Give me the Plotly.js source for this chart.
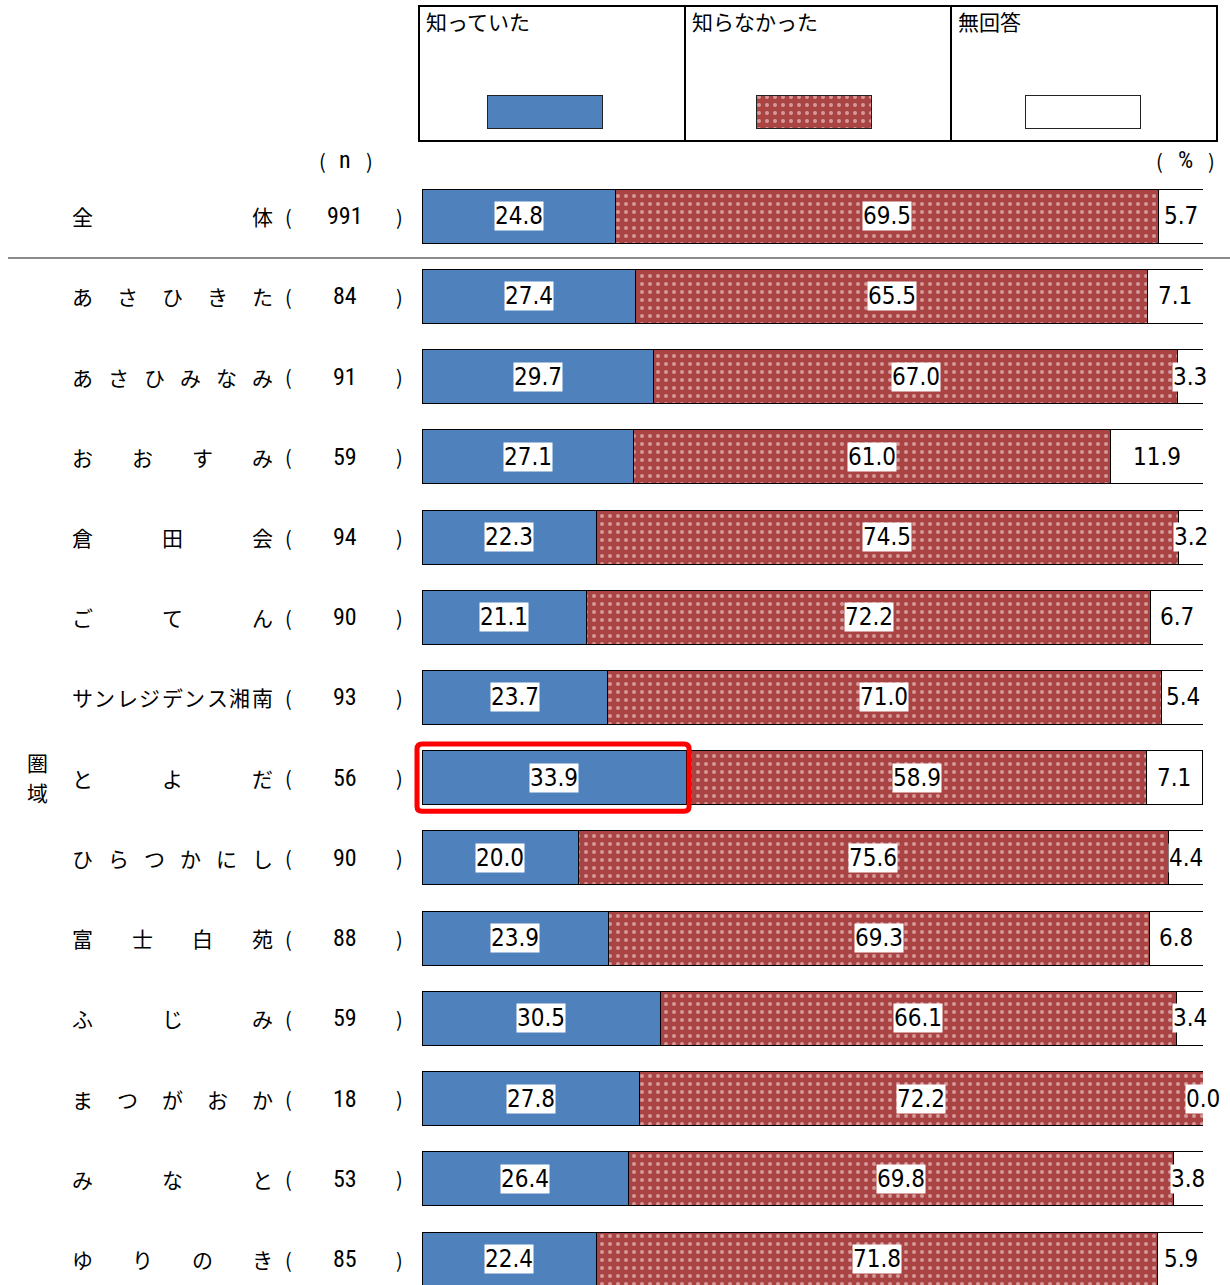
<!DOCTYPE html>
<html>
<head>
<meta charset="utf-8">
<script src="https://cdn.plot.ly/plotly-3.0.1.min.js"></script>
<style>
  html, body { margin: 0; padding: 0; background: #ffffff; }
  #chart { width: 1230px; height: 1285px; }
  .annotation-text { font-stretch: condensed; }
</style>
</head>
<body>
<div id="chart"></div>
<script>
// 圏域別の認知度（％）
const categories = ['全体', 'あさひきた', 'あさひみなみ', 'おおすみ', '倉田会', 'ごてん',
  'サンレジデンス湘南', 'とよだ', 'ひらつかにし', '富士白苑', 'ふじみ', 'まつがおか', 'みなと', 'ゆりのき'];
const nCounts = [991, 84, 91, 59, 94, 90, 93, 56, 90, 88, 59, 18, 53, 85];
const seriesNames = ['知っていた', '知らなかった', '無回答'];
const knew = [24.8, 27.4, 29.7, 27.1, 22.3, 21.1, 23.7, 33.9, 20.0, 23.9, 30.5, 27.8, 26.4, 22.4];
const didNotKnow = [69.5, 65.5, 67.0, 61.0, 74.5, 72.2, 71.0, 58.9, 75.6, 69.3, 66.1, 72.2, 69.8, 71.8];
const noAnswer = [5.7, 7.1, 3.3, 11.9, 3.2, 6.7, 5.4, 7.1, 4.4, 6.8, 3.4, 0.0, 3.8, 5.9];
const highlighted = 'とよだ';

const W = 1230, H = 1285;
// plot area of the main bars, in pixels
const PL = 422, PR = 1203, PT = 176, PB = 1285;
const X_RANGE = [0, 100];
const Y_RANGE = [13.324, -0.5];
const px = v => v / W;            // pixel x -> paper x
const py = v => (H - v) / H;      // pixel y -> paper y
// main-axis value -> paper, following the axis ranges above
const xToPaper = d => px(PL + (d - X_RANGE[0]) / (X_RANGE[1] - X_RANGE[0]) * (PR - PL));
const yToPaper = r => py(PT + (r - Y_RANGE[1]) / (Y_RANGE[0] - Y_RANGE[1]) * (PB - PT));

const JP = '"Noto Sans CJK JP", "Noto Sans", sans-serif';
const NUM = '"DejaVu Sans", sans-serif';
const NUM2 = 'Roboto, sans-serif';

const blue = '#4F81BD';
const red = '#AA4343';
const outline = { color: '#000000', width: 1 };
const dots = { shape: '.', size: 8, solidity: 0.2, fgcolor: '#FFF0F0', bgcolor: red, fillmode: 'overlay' };

const series = [
  { name: seriesNames[0], values: knew, marker: { color: blue, line: outline } },
  { name: seriesNames[1], values: didNotKnow, marker: { color: red, line: outline, pattern: dots } },
  { name: seriesNames[2], values: noAnswer, marker: { color: '#FFFFFF', line: outline } }
];

const traces = series.map(s => ({
  type: 'bar', orientation: 'h', name: s.name,
  x: s.values, y: categories,
  marker: s.marker, width: 0.673,
  hoverinfo: 'x+y', showlegend: false
}));

// legend swatches drawn as bars on their own small axes
series.forEach(s => {
  traces.push({
    type: 'bar', x: [s.name], y: [1], xaxis: 'x2', yaxis: 'y2',
    marker: { color: s.marker.color, line: { color: '#222', width: 1 }, pattern: s.marker.pattern },
    width: 0.428, hoverinfo: 'skip', showlegend: false
  });
});

const annotations = [];

// value labels centred in each segment, on white boxes
categories.forEach((c, i) => {
  let start = 0;
  series.forEach(s => {
    const v = s.values[i];
    annotations.push({
      xref: 'x', yref: 'y', x: start + v / 2, y: c,
      text: v.toFixed(1), showarrow: false,
      font: { family: NUM, size: 24, color: '#000' },
      bgcolor: '#FFFFFF', borderpad: 0, xanchor: 'center', yanchor: 'middle'
    });
    start += v;
  });
});

// row labels: characters spread across the label column, then (n)
categories.forEach((c, i) => {
  const chars = [...c];
  const m = chars.length;
  chars.forEach((ch, j) => {
    const cx = m === 1 ? 172 : 82 + j * (180 / (m - 1));
    annotations.push({
      xref: 'paper', yref: 'y', x: px(cx), y: c, text: ch, showarrow: false,
      font: { family: JP, size: 21, color: '#000' }, xanchor: 'center', yanchor: 'middle'
    });
  });
  annotations.push({ xref: 'paper', yref: 'y', x: px(288), y: c, text: '(', showarrow: false,
    font: { family: JP, size: 20, color: '#000' }, xanchor: 'center', yanchor: 'middle' });
  annotations.push({ xref: 'paper', yref: 'y', x: px(345), y: c, text: String(nCounts[i]), showarrow: false,
    font: { family: NUM2, size: 24, color: '#000' }, xanchor: 'center', yanchor: 'middle' });
  annotations.push({ xref: 'paper', yref: 'y', x: px(399), y: c, text: ')', showarrow: false,
    font: { family: JP, size: 20, color: '#000' }, xanchor: 'center', yanchor: 'middle' });
});

// headers
const header = (t, x, y, fam, size) => annotations.push({
  xref: 'paper', yref: 'paper', x: px(x), y: py(y), text: t, showarrow: false,
  font: { family: fam, size: size, color: '#000' }, xanchor: 'center', yanchor: 'middle'
});
header('(', 322, 160, JP, 20); header('n', 345, 160, NUM2, 24); header(')', 369, 160, JP, 20);
header('(', 1159, 160, JP, 20); header('%', 1185, 160, NUM2, 24); header(')', 1211, 160, JP, 20);
header('圏', 37, 762, JP, 21); header('域', 37, 792, JP, 21);

// legend captions
[424, 690, 956].forEach((x, k) => annotations.push({
  xref: 'paper', yref: 'paper', x: px(x), y: py(21), text: seriesNames[k], showarrow: false,
  font: { family: JP, size: 21, color: '#000' }, xanchor: 'left', yanchor: 'middle'
}));

// rounded highlight frame around the 知っていた segment of the highlighted row
const hi = categories.indexOf(highlighted);
const fx0 = xToPaper(-0.64), fx1 = xToPaper(knew[hi] + 0.3);
const fy0 = yToPaper(hi + 0.42), fy1 = yToPaper(hi - 0.42);
const rx = px(5), ry = 5 / H;
const roundPath = `M ${fx0 + rx} ${fy0} L ${fx1 - rx} ${fy0} Q ${fx1} ${fy0} ${fx1} ${fy0 + ry} ` +
  `L ${fx1} ${fy1 - ry} Q ${fx1} ${fy1} ${fx1 - rx} ${fy1} L ${fx0 + rx} ${fy1} Q ${fx0} ${fy1} ${fx0} ${fy1 - ry} ` +
  `L ${fx0} ${fy0 + ry} Q ${fx0} ${fy0} ${fx0 + rx} ${fy0} Z`;

const shapes = [
  // legend frame and cell dividers
  { type: 'rect', xref: 'paper', yref: 'paper', x0: px(419), x1: px(1217), y0: py(141), y1: py(6),
    line: { color: '#000', width: 2 }, fillcolor: 'rgba(0,0,0,0)', layer: 'below' },
  { type: 'line', xref: 'paper', yref: 'paper', x0: px(685), x1: px(685), y0: py(141), y1: py(6),
    line: { color: '#000', width: 2 } },
  { type: 'line', xref: 'paper', yref: 'paper', x0: px(951), x1: px(951), y0: py(141), y1: py(6),
    line: { color: '#000', width: 2 } },
  // separator below the total row
  { type: 'line', xref: 'paper', yref: 'paper', x0: px(8), x1: px(1230), y0: py(258), y1: py(258),
    line: { color: '#8C8C8C', width: 2 } },
  { type: 'path', xref: 'paper', yref: 'paper', path: roundPath,
    line: { color: '#FF0000', width: 5 }, fillcolor: 'rgba(0,0,0,0)', layer: 'above' }
];

const layout = {
  width: W, height: H,
  margin: { l: 0, r: 0, t: 0, b: 0, pad: 0 },
  paper_bgcolor: '#FFFFFF', plot_bgcolor: 'rgba(0,0,0,0)',
  barmode: 'stack',
  showlegend: false,
  xaxis: { range: X_RANGE, visible: false, fixedrange: true, domain: [px(PL), px(PR)] },
  yaxis: { type: 'category', range: Y_RANGE, visible: false, fixedrange: true, domain: [py(PB), py(PT)] },
  xaxis2: { anchor: 'y2', domain: [px(411), px(1217)], range: [-0.5, 2.5], visible: false, fixedrange: true },
  yaxis2: { anchor: 'x2', domain: [py(131), py(93)], range: [-0.06, 1.06], visible: false, fixedrange: true },
  annotations: annotations,
  shapes: shapes,
  font: { family: JP }
};

Plotly.newPlot('chart', traces, layout, { displayModeBar: false, staticPlot: true });
</script>
</body>
</html>
